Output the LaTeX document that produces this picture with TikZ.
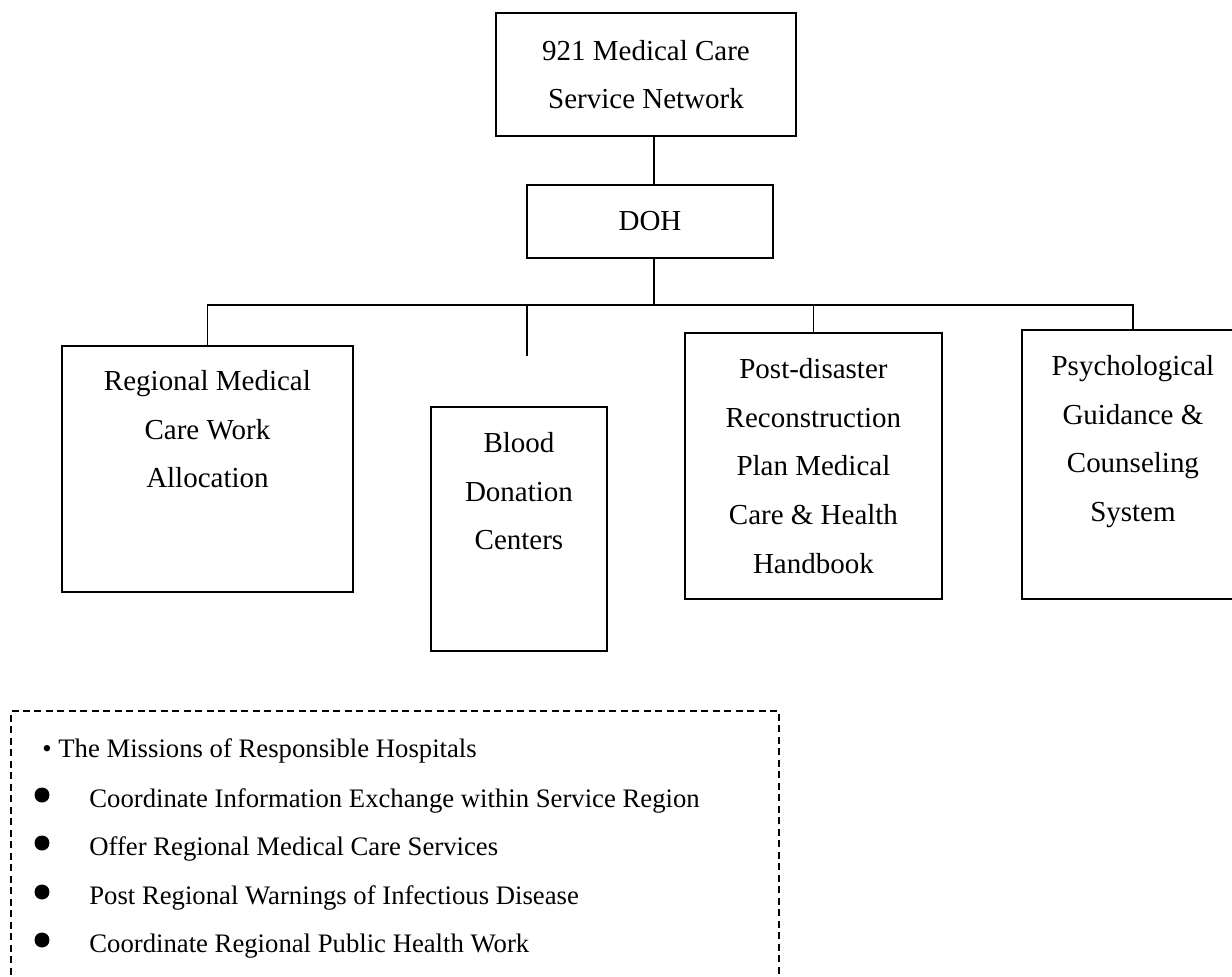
\documentclass[tikz,border=0pt]{standalone}
\usepackage{fontspec}
\setmainfont{Liberation Serif}
\usepackage{tikz}
\usetikzlibrary{positioning, calc}

\tikzset{
  orgbox/.style={draw, line width=1.1pt, inner sep=0pt, align=center},
  boxtext/.style={inner sep=0pt, align=center, anchor=north, font=\fontsize{16.5}{27.7}\selectfont},
  link/.style={line width=1pt},
  mission/.style={inner sep=0pt, anchor=base west, font=\fontsize{15.2}{18}\selectfont},
  missiondot/.style={circle, fill, inner sep=0pt, minimum size=0.3cm}
}

\begin{document}
\begin{tikzpicture}[x=0.02cm, y=-0.02cm]
  \useasboundingbox (0,0) rectangle (1232,977);
  \clip (0,0) rectangle (1232,977);

  % top of the chart
  \node[orgbox, minimum width=6cm, minimum height=2.46cm, font=\fontsize{16.5}{27.3}\selectfont] (network) at (646,74.5) {921 Medical Care\\Service Network};
  \node[orgbox, minimum width=4.92cm, minimum height=1.46cm, font=\fontsize{16.5}{20}\selectfont] (doh) at (650,221.5) {DOH};
  \coordinate (hub) at (654,305);
  \coordinate (blood-stub) at (527,356);

  % the four units
  \node[orgbox, anchor=north west, minimum width=5.82cm, minimum height=4.92cm] (alloc) at (61,345) {};
  \node[orgbox, anchor=north west, minimum width=3.52cm, minimum height=4.88cm] (blood) at (430,406) {};
  \node[orgbox, anchor=north west, minimum width=5.14cm, minimum height=5.32cm] (plan) at (684,332) {};
  \node[orgbox, anchor=north west, minimum width=4.44cm, minimum height=5.38cm] (psych) at (1021,329) {};

  \node[boxtext] (alloc-txt) at ([yshift=-0.5cm]alloc.north) {Regional Medical\\Care Work\\Allocation};
  \node[boxtext] (blood-txt) at ([yshift=-0.52cm]blood.north) {Blood\\Donation\\Centers};
  \node[boxtext] (plan-txt) at ([yshift=-0.52cm]plan.north) {Post-disaster\\Reconstruction\\Plan Medical\\Care \& Health\\Handbook};
  \node[boxtext] (psych-txt) at ([yshift=-0.52cm]psych.north) {Psychological\\Guidance \&\\Counseling\\System};

  % connectors
  \draw[link] (network.south -| hub) -- (doh.north -| hub);
  \draw[link] (doh.south -| hub) -- (hub);
  \draw[link] (alloc.north) -- (alloc.north |- hub) -- (psych.north |- hub) -- (psych.north);
  \draw[link] (blood-stub |- hub) -- (blood-stub);
  \draw[link] (plan.north |- hub) -- (plan.north);

  % missions box
  \node[draw, line width=1.1pt, dash pattern=on 0.14cm off 0.09cm, anchor=north west, minimum width=15.36cm, minimum height=6cm] (missions) at (10,710) {};
  \node[mission] (missions-head) at (42,757) {\textbullet{} The Missions of Responsible Hospitals};
  \foreach \i/\yb/\txt in {1/807/Coordinate Information Exchange within Service Region,
                           2/855/Offer Regional Medical Care Services,
                           3/904/Post Regional Warnings of Infectious Disease,
                           4/952/Coordinate Regional Public Health Work} {
    \node[missiondot] (dot\i) at (42,\yb-12) {};
    \node[mission] (item\i) at (89,\yb) {\txt};
  }
\end{tikzpicture}
\end{document}
